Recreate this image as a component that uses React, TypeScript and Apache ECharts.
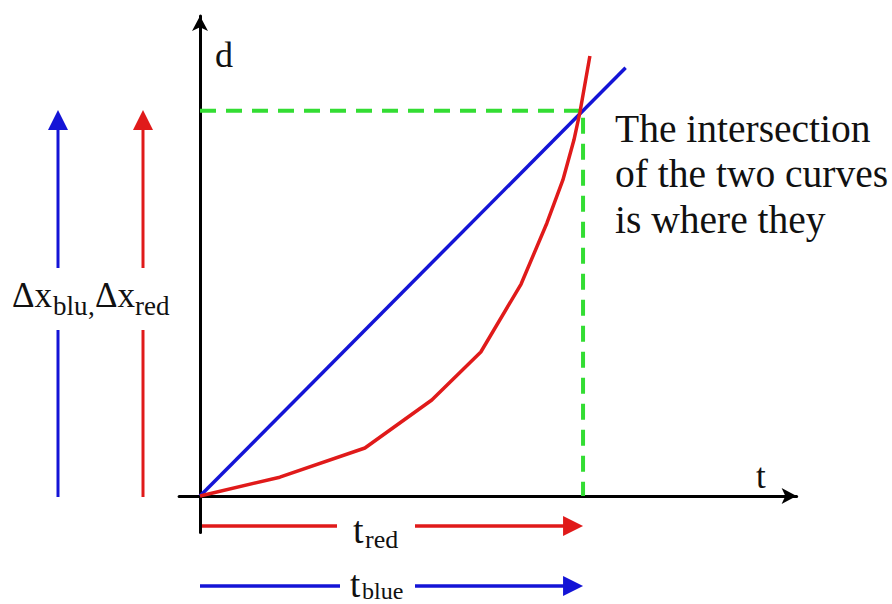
import React, { useEffect, useRef } from "react";
import * as echarts from "echarts";

// Chart data (t = time, d = distance)
const blueT = [0, 11.2];
const blueD = [0, 11.15];
const redT = [0, 2.1, 4.34, 6.1, 7.39, 8.45, 9.13, 9.55, 9.84, 10.0, 10.26];
const redD = [0, 0.49, 1.25, 2.5, 3.75, 5.52, 7.11, 8.23, 9.27, 10.0, 11.46];
const tCross = 10.08;
const dCross = 10.03;
const axisRangeT = [-0.55, 15.7];
const axisRangeD = [-0.95, 12.5];

const SERIF = "'Liberation Serif', 'DejaVu Serif', serif";
const BLUE = "#1414d6";
const RED = "#e01a1a";
const GREEN = "#33dd33";

export default function App() {
  const ref = useRef<HTMLDivElement>(null);
  useEffect(() => {
    const chart = echarts.init(ref.current!, null, { renderer: "svg" });
    const unitX = 38;
    const unitY = 38.4;
    const gridLeft = 200 + axisRangeT[0] * unitX;
    const gridWidth = (axisRangeT[1] - axisRangeT[0]) * unitX;
    const gridTop = 496 - axisRangeD[1] * unitY;
    const gridHeight = (axisRangeD[1] - axisRangeD[0]) * unitY;

    chart.setOption({
      animation: false,
      backgroundColor: "#ffffff",
      grid: { left: gridLeft, top: gridTop, width: gridWidth, height: gridHeight },
      xAxis: {
        type: "value",
        min: axisRangeT[0],
        max: axisRangeT[1],
        axisLine: {
          onZero: true,
          symbol: ["none", "arrow"],
          symbolSize: [12, 15],
          lineStyle: { color: "#000", width: 3 },
        },
        axisTick: { show: false },
        axisLabel: { show: false },
        splitLine: { show: false },
      },
      yAxis: {
        type: "value",
        min: axisRangeD[0],
        max: axisRangeD[1],
        axisLine: {
          onZero: true,
          symbol: ["none", "arrow"],
          symbolSize: [12, 15],
          lineStyle: { color: "#000", width: 3 },
        },
        axisTick: { show: false },
        axisLabel: { show: false },
        splitLine: { show: false },
      },
      series: [
        {
          type: "line",
          data: [
            [0, dCross],
            [tCross, dCross],
            [tCross, 0],
          ],
          showSymbol: false,
          lineStyle: { color: GREEN, width: 4, type: [16, 10] },
          z: 1,
        },
        {
          type: "line",
          data: blueT.map((t, i) => [t, blueD[i]]),
          showSymbol: false,
          lineStyle: { color: BLUE, width: 3.5 },
          z: 2,
        },
        {
          type: "line",
          data: redT.map((t, i) => [t, redD[i]]),
          showSymbol: false,
          lineStyle: { color: RED, width: 3.5 },
          z: 3,
        },
      ],
    });

    const p = (t: number, d: number) =>
      chart.convertToPixel({ gridIndex: 0 }, [t, d]) as number[];
    const x0 = p(0, 0)[0];
    const x1 = p(tCross, 0)[0];

    const hArrow = (y: number, gapL: number, gapR: number, color: string) => {
      const head = 20;
      const hw = 10;
      return [
        { type: "line", silent: true, shape: { x1: x0, y1: y, x2: gapL, y2: y }, style: { stroke: color, lineWidth: 3.5 } },
        { type: "line", silent: true, shape: { x1: gapR, y1: y, x2: x1 - head + 2, y2: y }, style: { stroke: color, lineWidth: 3.5 } },
        { type: "polygon", silent: true, shape: { points: [[x1 - head, y - hw], [x1, y], [x1 - head, y + hw]] }, style: { fill: color } },
      ];
    };
    const vArrow = (x: number, color: string) => {
      const tip = 110;
      const base = 130;
      const hw = 10;
      return [
        { type: "line", silent: true, shape: { x1: x, y1: 497, x2: x, y2: 330 }, style: { stroke: color, lineWidth: 3 } },
        { type: "line", silent: true, shape: { x1: x, y1: 268, x2: x, y2: base - 2 }, style: { stroke: color, lineWidth: 3 } },
        { type: "polygon", silent: true, shape: { points: [[x - hw, base], [x, tip], [x + hw, base]] }, style: { fill: color } },
      ];
    };
    const txt = (text: string, x: number, y: number, size: number, extra: any = {}) => ({
      type: "text",
      silent: true,
      x,
      y,
      style: {
        text,
        fontSize: size,
        fontFamily: SERIF,
        fill: "#111",
        align: "left",
        verticalAlign: "middle",
        ...extra,
      },
    });

    chart.setOption({
      graphic: [
        ...vArrow(58, BLUE),
        ...vArrow(143, RED),
        ...hArrow(526, 337, 415, RED),
        ...hArrow(586, 340, 415, BLUE),
        txt("Δx", 12, 295.5, 35),
        txt("blu", 53, 306, 27),
        txt(",", 88, 306, 27),
        txt("Δx", 95, 295.5, 35),
        txt("red", 135, 306, 27),
        txt("t", 353, 530, 38),
        txt("red", 365, 539, 26),
        txt("t", 350, 584, 37),
        txt("blue", 362, 591, 24),
        txt("d", 215, 55, 36),
        txt("t", 756, 476, 35),
        txt("The intersection\nof the two curves\nis where they", 615, 174, 39.5, { lineHeight: 45.5 }),
      ],
    });

    return () => chart.dispose();
  }, []);
  return (
    <div
      ref={ref}
      style={{ position: "fixed", left: 0, top: 0, width: 892, height: 604, background: "#fff" }}
    />
  );
}
